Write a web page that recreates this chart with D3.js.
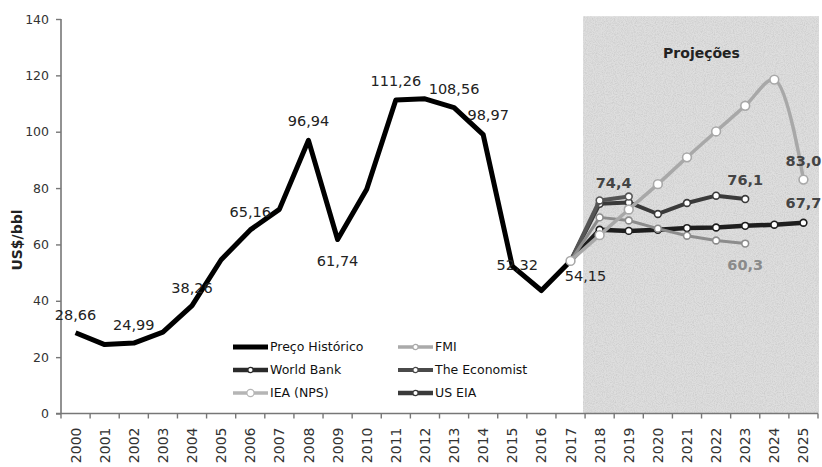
<!DOCTYPE html>
<html>
<head>
<meta charset="utf-8">
<script src="https://cdn.jsdelivr.net/npm/d3@7"></script>
<style>
  html, body { margin: 0; padding: 0; background: #fff; }
  svg { display: block; font-family: "DejaVu Sans", Verdana, sans-serif; }
</style>
</head>
<body>
<svg id="chart" width="822" height="467"></svg>
<script>
// Brent crude: historical annual average and forecasts (US$/bbl)
const years = ["2000","2001","2002","2003","2004","2005","2006","2007","2008","2009","2010","2011","2012",
               "2013","2014","2015","2016","2017","2018","2019","2020","2021","2022","2023","2024","2025"];
const yTicks = [0, 20, 40, 60, 80, 100, 120, 140];

const historicYears = years.slice(0, 18);
const historic = [28.66, 24.46, 24.99, 28.85, 38.26, 54.57, 65.16, 72.44, 96.94, 61.74, 79.61, 111.26,
                  111.67, 108.56, 98.97, 52.32, 43.64, 54.15];

// forecasts start from the last observed year (2017)
const worldBankYears = years.slice(17, 26);
const worldBank = [54.15, 65.2, 64.8, 65.2, 65.8, 66.0, 66.6, 67.0, 67.7];
const usEiaYears = years.slice(17, 24);
const usEia = [54.15, 74.4, 74.9, 70.8, 74.7, 77.3, 76.1];
const economistYears = years.slice(17, 20);
const economist = [54.15, 75.6, 77.0];
const fmiYears = years.slice(17, 24);
const fmi = [54.15, 69.6, 68.5, 65.6, 63.1, 61.4, 60.3];
const ieaYears = years.slice(17, 26);
const iea = [54.15, 63.3, 72.4, 81.4, 90.9, 100.1, 109.2, 118.5, 83.0];

const historicLabels = [
  { year: "2000", value: 28.66, text: "28,66", dx: 0, dy: -13 },
  { year: "2002", value: 24.99, text: "24,99", dx: 0, dy: -13 },
  { year: "2004", value: 38.26, text: "38,26", dx: 0, dy: -13 },
  { year: "2006", value: 65.16, text: "65,16", dx: 0, dy: -13 },
  { year: "2008", value: 96.94, text: "96,94", dx: 0, dy: -14 },
  { year: "2009", value: 61.74, text: "61,74", dx: 0, dy: 26 },
  { year: "2011", value: 111.26, text: "111,26", dx: 0, dy: -14 },
  { year: "2013", value: 108.56, text: "108,56", dx: 0, dy: -14 },
  { year: "2014", value: 98.97, text: "98,97", dx: 5, dy: -15 },
  { year: "2015", value: 52.32, text: "52,32", dx: 5, dy: 4 },
  { year: "2017", value: 54.15, text: "54,15", dx: 15, dy: 20 }
];
const forecastLabels = [
  { year: "2018", value: 74.4, text: "74,4", dx: 14, dy: -16, color: "#444" },
  { year: "2023", value: 76.1, text: "76,1", dx: 0, dy: -14, color: "#444" },
  { year: "2025", value: 83.0, text: "83,0", dx: 0, dy: -14, color: "#444" },
  { year: "2025", value: 67.7, text: "67,7", dx: 0, dy: -15, color: "#444" },
  { year: "2023", value: 60.3, text: "60,3", dx: 0, dy: 26, color: "#8a8a8a" }
];

const series = [
  { name: "World Bank",   years: worldBankYears, values: worldBank, color: "#1e1e1e", width: 4.5, r: 3.4, smooth: false },
  { name: "US EIA",       years: usEiaYears,     values: usEia,     color: "#3a3a3a", width: 4,   r: 3.4, smooth: false },
  { name: "The Economist",years: economistYears, values: economist, color: "#555555", width: 4,   r: 3.4, smooth: false },
  { name: "FMI",          years: fmiYears,       values: fmi,       color: "#8c8c8c", width: 3,   r: 3.4, smooth: false },
  { name: "IEA (NPS)",    years: ieaYears,       values: iea,       color: "#a8a8a8", width: 3.5, r: 4.4, smooth: true }
];

const svg = d3.select("#chart");
const plotLeft = 61, plotRight = 818, plotTop = 19, plotBottom = 413.5;

const x = d3.scaleBand().domain(years).range([plotLeft, plotRight]).padding(0);
const cx = d => x(d) + x.bandwidth() / 2;
const y = d3.scaleLinear().domain([0, 140]).range([plotBottom, plotTop]);

// grain texture for the forecast panel
const defs = svg.append("defs");
const f = defs.append("filter").attr("id", "grain").attr("x", 0).attr("y", 0).attr("width", 1).attr("height", 1);
f.append("feTurbulence").attr("type", "fractalNoise").attr("baseFrequency", 0.9).attr("numOctaves", 2).attr("seed", 4).attr("result", "noise");
f.append("feColorMatrix").attr("in", "noise").attr("type", "matrix")
  .attr("values", "0 0 0 0 0  0 0 0 0 0  0 0 0 0 0  0.35 0 0 0 -0.13").attr("result", "speck");
f.append("feComposite").attr("in", "speck").attr("in2", "SourceGraphic").attr("operator", "in").attr("result", "clipped");
const merge = f.append("feMerge");
merge.append("feMergeNode").attr("in", "SourceGraphic");
merge.append("feMergeNode").attr("in", "clipped");

// forecast period panel
const panelX = x("2018") - 2;
svg.append("rect")
  .attr("x", panelX).attr("y", y(141))
  .attr("width", plotRight + 1 - panelX).attr("height", plotBottom - y(141))
  .attr("fill", "#dedede").attr("filter", "url(#grain)");

svg.append("text")
  .attr("x", (panelX + plotRight) / 2 + 1).attr("y", 58)
  .attr("text-anchor", "middle").attr("font-size", 14).attr("font-weight", "bold").attr("fill", "#222")
  .text("Projeções");

// y axis
const yAxis = svg.append("g").attr("transform", `translate(${plotLeft},0)`)
  .call(d3.axisLeft(y).tickValues(yTicks).tickSize(5).tickPadding(7).tickFormat(d3.format("d")));
yAxis.select(".domain").attr("stroke", "#777").attr("stroke-width", 1.6).attr("d", `M0,${plotTop}V${plotBottom}`);
yAxis.selectAll(".tick line").attr("stroke", "#777").attr("stroke-width", 1.4);
yAxis.selectAll(".tick text").attr("font-size", 12.5).attr("fill", "#333").attr("font-family", "DejaVu Sans");

svg.append("text")
  .attr("transform", "translate(22,240) rotate(-90)")
  .attr("text-anchor", "middle").attr("font-size", 14).attr("font-weight", "bold").attr("fill", "#222")
  .text("US$/bbl");

// x axis: labels at category centres, tick marks between categories
const xAxis = svg.append("g").attr("transform", `translate(0,${plotBottom})`)
  .call(d3.axisBottom(x).tickSize(0).tickPadding(0));
xAxis.select(".domain").attr("stroke", "#777").attr("stroke-width", 1.6).attr("d", `M${plotLeft - 5},0H${plotRight}`);
xAxis.selectAll(".tick text")
  .attr("font-size", 14).attr("fill", "#333").attr("font-family", "DejaVu Sans")
  .attr("text-anchor", "end")
  .attr("transform", "rotate(-90)")
  .attr("x", -14).attr("y", 0).attr("dy", "0.36em");
xAxis.selectAll(".boundary")
  .data(d3.range(years.length + 1))
  .join("line")
  .attr("class", "boundary")
  .attr("x1", i => plotLeft + i * x.step()).attr("x2", i => plotLeft + i * x.step())
  .attr("y1", 0).attr("y2", 5)
  .attr("stroke", "#777").attr("stroke-width", 1.4);

const lineGen = d3.line().x(d => cx(d[0])).y(d => y(d[1]));
const smoothGen = d3.line().x(d => cx(d[0])).y(d => y(d[1])).curve(d3.curveCatmullRom.alpha(0.5));

// historical price
svg.append("path")
  .datum(historicYears.map((yr, i) => [yr, historic[i]]))
  .attr("d", lineGen)
  .attr("fill", "none").attr("stroke", "#000").attr("stroke-width", 5)
  .attr("stroke-linejoin", "round");

// forecasts
series.forEach(s => {
  const pts = s.years.map((yr, i) => [yr, s.values[i]]);
  svg.append("path").datum(pts)
    .attr("d", s.smooth ? smoothGen : lineGen)
    .attr("fill", "none").attr("stroke", s.color).attr("stroke-width", s.width)
    .attr("stroke-linejoin", "round");
  svg.append("g").selectAll("circle").data(pts).join("circle")
    .attr("cx", d => cx(d[0])).attr("cy", d => y(d[1])).attr("r", s.r)
    .attr("fill", "#fff").attr("stroke", s.color).attr("stroke-width", 1.6);
});

// value labels
svg.append("g").selectAll("text").data(historicLabels).join("text")
  .attr("x", d => cx(d.year) + d.dx).attr("y", d => y(d.value) + d.dy)
  .attr("text-anchor", "middle").attr("font-size", 14.5).attr("fill", "#222")
  .text(d => d.text);

svg.append("g").selectAll("text").data(forecastLabels).join("text")
  .attr("x", d => cx(d.year) + d.dx).attr("y", d => y(d.value) + d.dy)
  .attr("text-anchor", "middle").attr("font-size", 14.5).attr("font-weight", "bold").attr("fill", d => d.color)
  .text(d => d.text);

// legend
const legendItems = [
  { name: "Preço Histórico", color: "#000",    width: 5,   r: 0 },
  { name: "FMI",             color: "#aaaaaa", width: 3.5, r: 2.6 },
  { name: "World Bank",      color: "#2a2a2a", width: 4.5, r: 2.6 },
  { name: "The Economist",   color: "#4a4a4a", width: 4,   r: 2.6 },
  { name: "IEA (NPS)",       color: "#b5b5b5", width: 3.5, r: 3.6 },
  { name: "US EIA",          color: "#3a3a3a", width: 4.5, r: 2.6 }
];
const legend = svg.append("g").attr("transform", "translate(233,347)");
const li = legend.selectAll("g").data(legendItems).join("g")
  .attr("transform", (d, i) => `translate(${(i % 2) * 165},${Math.floor(i / 2) * 23})`);
li.append("line").attr("x1", 0).attr("x2", 35).attr("y1", 0).attr("y2", 0)
  .attr("stroke", d => d.color).attr("stroke-width", d => d.width);
li.filter(d => d.r > 0).append("circle")
  .attr("cx", 17.5).attr("cy", 0).attr("r", d => d.r)
  .attr("fill", "#fff").attr("stroke", d => d.color).attr("stroke-width", 1.2);
li.append("text").attr("x", 37).attr("y", 0).attr("dy", "0.35em")
  .attr("font-size", 12.5).attr("fill", "#111")
  .text(d => d.name);
</script>
</body>
</html>
